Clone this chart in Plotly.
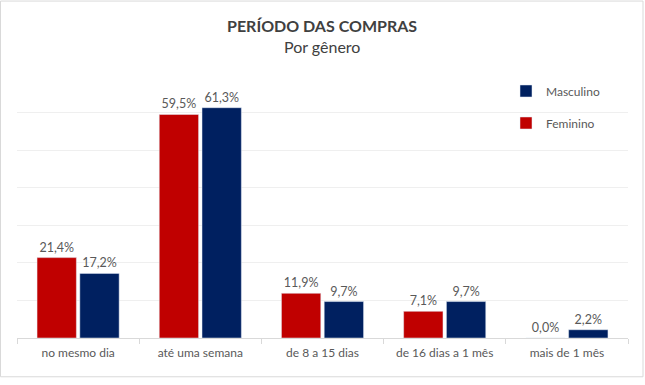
import plotly.graph_objects as go

categories = ["no mesmo dia", "até uma semana", "de 8 a 15 dias", "de 16 dias a 1 mês", "mais de 1 mês"]
feminino = [21.4, 59.5, 11.9, 7.1, 0.0]
masculino = [17.2, 61.3, 9.7, 9.7, 2.2]

RED = "#C00000"
NAVY = "#002060"
FONT = "Lato"
TXT = "#595959"

L, R, T, B = 17, 17, 74.5, 47.3
W, H = 645, 385
pw, ph = W - L - R, H - T - B

fig = go.Figure()
fig.add_trace(go.Bar(
    x=categories, y=feminino, name="Feminino", marker_color=RED,
    texttemplate="%{y:.1f}%", textposition="outside", cliponaxis=False,
    textfont=dict(family=FONT, size=12.5, color=TXT), legendrank=2, legendgroup="f",
))
fig.add_trace(go.Bar(
    x=categories, y=masculino, name="Masculino", marker_color=NAVY,
    texttemplate="%{y:.1f}%", textposition="outside", cliponaxis=False,
    textfont=dict(family=FONT, size=12.5, color=TXT), legendrank=1, legendgroup="m",
))

def px_x(x):
    return (x - L) / pw

def px_y(y):
    return (H - B - y) / ph

fig.update_layout(
    width=W, height=H,
    margin=dict(l=L, r=R, t=T, b=B),
    paper_bgcolor="white", plot_bgcolor="white",
    barmode="group", bargap=0.3, bargroupgap=0.08,
    separators=",.",
    font=dict(family=FONT, color=TXT, size=12),
    showlegend=True,
    legend=dict(
        x=px_x(506), y=px_y(76), xanchor="left", yanchor="top",
        traceorder="grouped", tracegroupgap=13,
        font=dict(family=FONT, size=12, color=TXT),
        bgcolor="rgba(0,0,0,0)", itemwidth=30,
    ),
    xaxis=dict(
        showline=True, linecolor="#d9d9d9", linewidth=1,
        ticks="outside", tickson="boundaries", ticklen=5, tickcolor="#d9d9d9",
        tickfont=dict(family=FONT, size=12, color=TXT), ticklabelstandoff=4,
        showgrid=False,
    ),
    yaxis=dict(
        range=[0, 70], dtick=10, showticklabels=False,
        showgrid=True, gridcolor="#efefef", gridwidth=1,
        zeroline=False, fixedrange=True,
    ),
    annotations=[
        dict(text="<b>PERÍODO DAS COMPRAS</b>", xref="paper", yref="paper",
             x=px_x(322), y=px_y(25), xanchor="center", yanchor="middle",
             showarrow=False, font=dict(family=FONT, size=16, color="#404040")),
        dict(text="Por gênero", xref="paper", yref="paper",
             x=px_x(322), y=px_y(46), xanchor="center", yanchor="middle",
             showarrow=False, font=dict(family=FONT, size=16, color="#404040")),
    ],
    shapes=[
        dict(type="rect", xref="paper", yref="paper",
             x0=px_x(0.5), x1=px_x(643), y0=px_y(376.5), y1=px_y(0.5),
             line=dict(color="#d9d9d9", width=1), fillcolor="rgba(0,0,0,0)", layer="below"),
    ],
)

fig.write_html("out.html", config={"displayModeBar": False},
               post_script="document.body.style.margin='0';document.body.style.overflow='hidden';")
